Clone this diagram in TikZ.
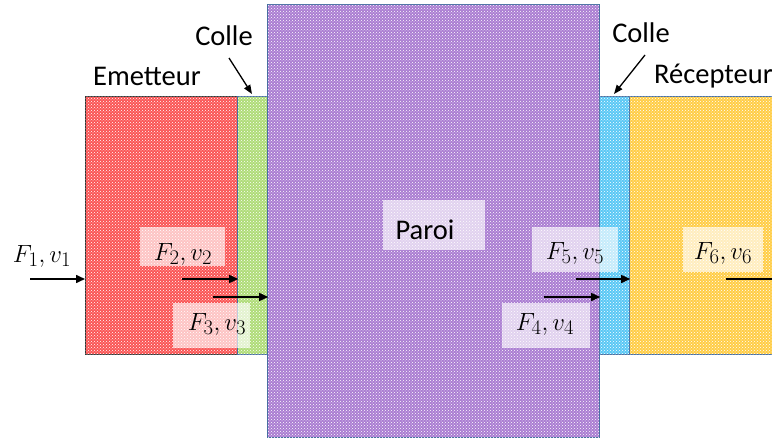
\documentclass[tikz,border=0pt]{standalone}
\usepackage{fontspec}
\setmainfont{Carlito}
\usetikzlibrary{patterns,arrows.meta}
\definecolor{cRed}{RGB}{250,85,85}
\definecolor{cGreen}{RGB}{175,220,120}
\definecolor{cPurple}{RGB}{170,125,210}
\definecolor{cBlue}{RGB}{90,200,245}
\definecolor{cYellow}{RGB}{255,205,70}
\definecolor{cEdge}{RGB}{70,110,160}
\tikzset{
  mat/.style 2 args={draw=#2, line width=1.2pt, fill=#1, anchor=north west, inner sep=0pt,
    postaction={pattern=crosshatch dots, pattern color=white}},
  lbl/.style={fill=white, fill opacity=0.65, text opacity=1, inner sep=0pt},
  txt/.style={font=\fontsize{28.5}{32}\selectfont, inner sep=0pt},
  mtxt/.style={font=\fontsize{30}{34}\selectfont, inner sep=0pt},
  arr/.style={line width=1.6pt, -{Triangle[length=9pt,width=8pt]}},
  carr/.style={line width=1.3pt, -{Triangle[length=9pt,width=7pt]}}
}
\begin{document}
\begin{tikzpicture}[x=1pt,y=-1pt]
\useasboundingbox (0,0) rectangle (772,439);
\clip (0,0) rectangle (772,439);
% blocks
\node[mat={cRed}{black!80}, minimum width=152pt, minimum height=258pt] (em) at (85,96) {};
\node[mat={cGreen}{cEdge}, minimum width=30pt, minimum height=258pt] (c1) at (237,96) {};
\node[mat={cPurple}{cEdge}, minimum width=332pt, minimum height=433pt] (par) at (267,4) {};
\node[mat={cBlue}{cEdge}, minimum width=30pt, minimum height=258pt] (c2) at (599,96) {};
\node[mat={cYellow}{cEdge}, minimum width=200pt, minimum height=258pt] (rec) at (629,96) {};
% labels
\node[txt] (tEm) at (147,76) {Emetteur};
\node[txt] (tC1) at (224,36) {Colle};
\node[txt] (tC2) at (641,33) {Colle};
\node[txt, anchor=west] (tRec) at (654,76) {Récepteur};
\node[lbl, minimum width=102pt, minimum height=50pt] (pbox) at (434,225) {};
\node[txt] (tPar) at (425,230) {Paroi};
% colle arrows
\coordinate (k1) at (229,58);
\coordinate (k1e) at (252,94);
\draw[carr] (k1) -- (k1e);
\coordinate (k2) at (645,55);
\coordinate (k2e) at (614,94);
\draw[carr] (k2) -- (k2e);
% force labels
\node[mtxt] (f1) at (42,256) {$F_1, v_1$};
\node[lbl, minimum width=85pt, minimum height=39pt] (b2) at (182,246) {};
\node[mtxt] (f2) at (183,254) {$F_2, v_2$};
\node[lbl, minimum width=77pt, minimum height=45pt] (b3) at (211,325) {};
\node[mtxt] (f3) at (217,324) {$F_3, v_3$};
\node[lbl, minimum width=88pt, minimum height=45pt] (b4) at (546,325) {};
\node[mtxt] (f4) at (545,324) {$F_4, v_4$};
\node[lbl, minimum width=86pt, minimum height=45pt] (b5) at (575,249) {};
\node[mtxt] (f5) at (575,253) {$F_5, v_5$};
\node[lbl, minimum width=80pt, minimum height=45pt] (b6) at (723,249) {};
\node[mtxt] (f6) at (723,253) {$F_6, v_6$};
% force arrows
\coordinate (a1) at (30,279);
\draw[arr] (a1) -- (a1 -| em.west);
\coordinate (a2) at (182,279);
\draw[arr] (a2) -- (a2 -| em.east);
\coordinate (a3) at (213,297);
\draw[arr] (a3) -- (a3 -| c1.east);
\coordinate (a4) at (544,297);
\draw[arr] (a4) -- (a4 -| par.east);
\coordinate (a5) at (576,279);
\draw[arr] (a5) -- (a5 -| c2.east);
\coordinate (a6) at (726,279);
\coordinate (a6e) at (800,279);
\draw[arr] (a6) -- (a6e);
\end{tikzpicture}
\end{document}
